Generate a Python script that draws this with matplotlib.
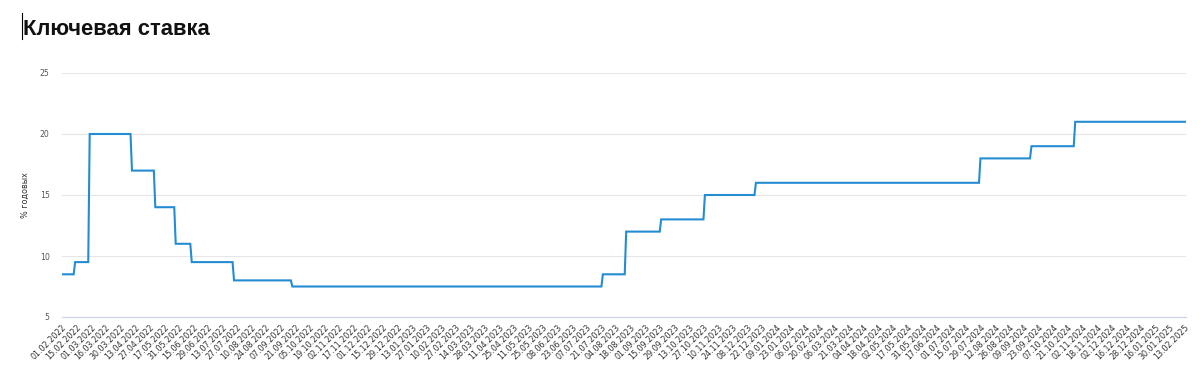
import numpy as np
import matplotlib
matplotlib.use("Agg")
import matplotlib.pyplot as plt
from matplotlib.lines import Line2D

# ---- data ----
tick_labels = [
    "01.02.2022", "15.02.2022", "01.03.2022", "16.03.2022", "30.03.2022", "13.04.2022",
    "27.04.2022", "17.05.2022", "31.05.2022", "15.06.2022", "29.06.2022", "13.07.2022",
    "27.07.2022", "10.08.2022", "24.08.2022", "07.09.2022", "21.09.2022", "05.10.2022",
    "19.10.2022", "02.11.2022", "17.11.2022", "01.12.2022", "15.12.2022", "29.12.2022",
    "13.01.2023", "27.01.2023", "10.02.2023", "27.02.2023", "14.03.2023", "28.03.2023",
    "11.04.2023", "25.04.2023", "11.05.2023", "25.05.2023", "08.06.2023", "23.06.2023",
    "07.07.2023", "21.07.2023", "04.08.2023", "18.08.2023", "01.09.2023", "15.09.2023",
    "29.09.2023", "13.10.2023", "27.10.2023", "10.11.2023", "24.11.2023", "08.12.2023",
    "22.12.2023", "09.01.2024", "23.01.2024", "06.02.2024", "20.02.2024", "06.03.2024",
    "21.03.2024", "04.04.2024", "18.04.2024", "02.05.2024", "17.05.2024", "31.05.2024",
    "17.06.2024", "01.07.2024", "15.07.2024", "29.07.2024", "12.08.2024", "26.08.2024",
    "09.09.2024", "23.09.2024", "07.10.2024", "21.10.2024", "02.11.2024", "18.11.2024",
    "02.12.2024", "16.12.2024", "28.12.2024", "16.01.2025", "30.01.2025", "13.02.2025",
]
points_per_label = 10          # one label every 10 trading days
n_points = 772                 # trading days shown (01.02.2022 .. 14.02.2025)

change_dates = [
    "2022-02-01", "2022-02-14", "2022-02-28", "2022-04-11", "2022-05-04", "2022-05-27",
    "2022-06-14", "2022-07-25", "2022-09-19", "2023-07-24", "2023-08-15", "2023-09-18",
    "2023-10-30", "2023-12-18", "2024-07-29", "2024-09-16", "2024-10-28",
]
rates = [8.5, 9.5, 20, 17, 14, 11, 9.5, 8, 7.5, 8.5, 12, 13, 15, 16, 18, 19, 21]

title = "Ключевая ставка"
y_label = "% годовых"
y_ticks = [5, 10, 15, 20, 25]

# ---- map dates to trading-day index using labelled anchors ----
anchors = np.array(["%s-%s-%s" % (s[6:], s[3:5], s[:2]) for s in tick_labels],
                   dtype="datetime64[D]")


def date_to_index(d):
    d = np.datetime64(d, "D")
    i = int(np.searchsorted(anchors, d, side="right") - 1)
    if i >= len(anchors) - 1:
        return i * points_per_label + int(np.busday_count(anchors[i], d))
    total = np.busday_count(anchors[i], anchors[i + 1])
    part = np.busday_count(anchors[i], d)
    return i * points_per_label + int(round(points_per_label * part / max(total, 1)))


change_idx = np.array([date_to_index(d) for d in change_dates])
x = np.arange(n_points)
series = np.array(rates)[np.searchsorted(change_idx, x, side="right") - 1]

# ---- figure ----
W, H = 1200, 377
fig = plt.figure(figsize=(W / 100, H / 100), dpi=100)
ax = fig.add_axes([62 / W, 60 / H, (1186 - 62) / W, (317 - 73) / H])

ax.plot(x, series, color="#248dd2", lw=1.5, solid_joinstyle="miter", zorder=3)

ax.set_xlim(0, n_points - 1)
ax.set_ylim(5, 25)
ax.set_yticks(y_ticks)
ax.set_yticklabels([str(v) for v in y_ticks])
ax.tick_params(axis="y", length=0, pad=9, labelsize=5.6, labelcolor="#555555")
ax.grid(axis="y", color="#e6e6e6", lw=0.8)
ax.set_axisbelow(True)

tick_pos = np.arange(len(tick_labels)) * points_per_label
ax.set_xticks(tick_pos)
ax.set_xticklabels(tick_labels, rotation=45, ha="right", rotation_mode="anchor",
                   fontsize=5.8, color="#333333")
ax.tick_params(axis="x", length=0, pad=4)

for s in ["top", "right", "left"]:
    ax.spines[s].set_visible(False)
ax.spines["bottom"].set_color("#ccd6eb")
ax.spines["bottom"].set_linewidth(0.9)

ax.set_ylabel(y_label, fontsize=5.8, color="#333333", labelpad=7)

fig.text(23 / W, 1 - 35 / H, title, fontsize=15.8, fontweight="bold",
         family="Liberation Sans", color="#111111", va="baseline", ha="left")
fig.add_artist(Line2D([22 / W, 22 / W], [1 - 39 / H, 1 - 13 / H],
                      transform=fig.transFigure, color="black", lw=0.8))

fig.savefig("out.png", dpi=100, facecolor="white")
